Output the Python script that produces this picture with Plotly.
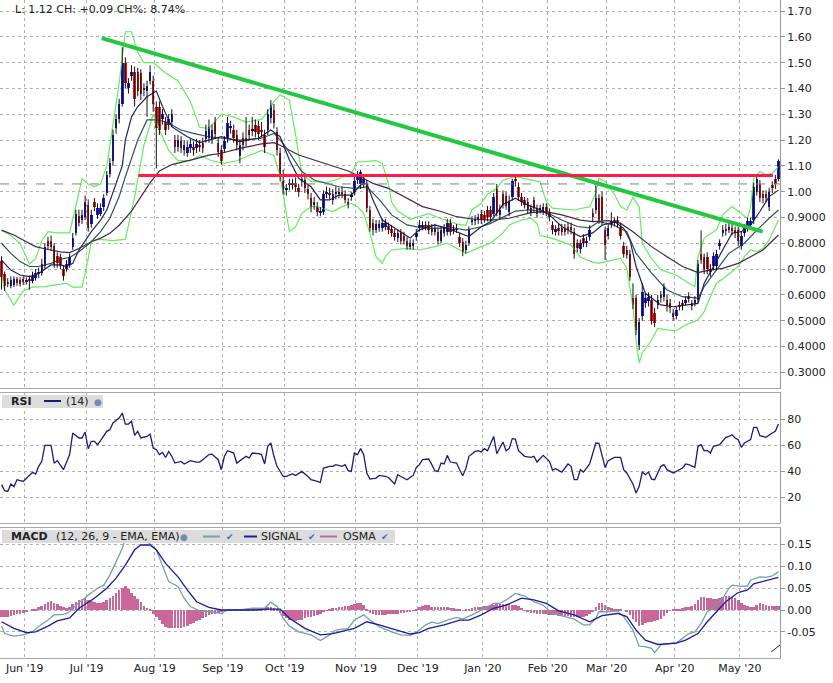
import plotly.graph_objects as go

# one bar per trading day, 21 May 2019 .. 19 May 2020
open_ = [
    0.73, 0.68, 0.65, 0.635, 0.64, 0.66, 0.658, 0.66, 0.65, 0.66,
    0.655, 0.665, 0.68, 0.685, 0.71, 0.81, 0.81, 0.79, 0.75, 0.745,
    0.70, 0.70, 0.715, 0.785, 0.84, 0.905, 0.89, 0.90, 0.95, 0.875,
    0.96, 0.91, 0.915, 0.94, 0.995, 1.07, 1.12, 1.245, 1.28, 1.34,
    1.50, 1.40, 1.45, 1.465, 1.465, 1.46, 1.40, 1.39, 1.43, 1.43,
    1.33, 1.33, 1.28, 1.27, 1.26, 1.27, 1.20, 1.175, 1.195, 1.16,
    1.15, 1.17, 1.175, 1.17, 1.18, 1.19, 1.206, 1.21, 1.205, 1.27,
    1.19, 1.16, 1.165, 1.21, 1.245, 1.24, 1.22, 1.14, 1.21, 1.21,
    1.24, 1.24, 1.26, 1.255, 1.24, 1.22, 1.24, 1.285, 1.316, 1.23,
    1.15, 1.04, 1.005, 1.03, 1.03, 1.035, 1.013, 1.04, 1.045, 1.01,
    0.975, 0.948, 0.94, 0.918, 0.92, 0.99, 0.995, 0.967, 0.99, 0.995,
    1.0, 0.99, 0.96, 0.985, 1.0, 1.045, 1.03, 1.03, 1.03, 0.93,
    0.877, 0.853, 0.86, 0.86, 0.865, 0.866, 0.855, 0.84, 0.82, 0.84,
    0.83, 0.81, 0.787, 0.79, 0.825, 0.86, 0.864, 0.87, 0.87, 0.86,
    0.845, 0.845, 0.81, 0.84, 0.845, 0.88, 0.85, 0.86, 0.825, 0.806,
    0.774, 0.80, 0.885, 0.887, 0.89, 0.915, 0.91, 0.93, 0.93, 0.915,
    1.01, 0.91, 0.99, 0.985, 0.92, 0.98, 1.05, 1.02, 0.98, 0.967,
    0.96, 0.92, 0.967, 0.935, 0.935, 0.925, 0.94, 0.92, 0.87, 0.845,
    0.86, 0.86, 0.86, 0.865, 0.865, 0.845, 0.80, 0.777, 0.82, 0.80,
    0.825, 0.918, 0.93, 0.975, 0.98, 0.85, 0.83, 0.87, 0.89, 0.89,
    0.865, 0.79, 0.775, 0.76, 0.587, 0.587, 0.405, 0.52, 0.567, 0.575,
    0.58, 0.53, 0.56, 0.60, 0.59, 0.58, 0.567, 0.528, 0.52, 0.56,
    0.567, 0.57, 0.595, 0.567, 0.567, 0.58, 0.76, 0.745, 0.745, 0.70,
    0.71, 0.71, 0.79, 0.84, 0.857, 0.855, 0.86, 0.85, 0.85, 0.79,
    0.84, 0.86, 0.87, 0.89, 1.0, 1.03, 0.99, 0.99, 0.94, 1.026,
    1.05, 1.05,
]
high = [
    0.75, 0.69, 0.665, 0.672, 0.672, 0.67, 0.668, 0.672, 0.668, 0.675,
    0.69, 0.70, 0.705, 0.74, 0.80, 0.825, 0.83, 0.80, 0.765, 0.76,
    0.715, 0.735, 0.76, 0.84, 0.93, 0.93, 0.93, 0.985, 0.97, 0.93,
    0.975, 0.955, 0.955, 0.99, 1.08, 1.13, 1.24, 1.30, 1.36, 1.56,
    1.52, 1.44, 1.49, 1.485, 1.48, 1.475, 1.42, 1.43, 1.49, 1.45,
    1.35, 1.35, 1.32, 1.29, 1.30, 1.32, 1.22, 1.22, 1.215, 1.20,
    1.195, 1.205, 1.195, 1.205, 1.20, 1.21, 1.26, 1.28, 1.26, 1.29,
    1.21, 1.18, 1.215, 1.29, 1.275, 1.26, 1.24, 1.20, 1.23, 1.29,
    1.26, 1.29, 1.28, 1.275, 1.27, 1.24, 1.32, 1.355, 1.34, 1.25,
    1.17, 1.085, 1.03, 1.05, 1.05, 1.055, 1.03, 1.07, 1.065, 1.03,
    0.995, 0.98, 0.96, 0.94, 1.005, 1.02, 1.015, 1.01, 1.02, 1.015,
    1.02, 1.005, 0.975, 1.0, 1.06, 1.08, 1.085, 1.065, 1.045, 0.945,
    0.895, 0.89, 0.89, 0.895, 0.895, 0.88, 0.87, 0.855, 0.855, 0.855,
    0.845, 0.825, 0.815, 0.815, 0.855, 0.89, 0.885, 0.885, 0.885, 0.875,
    0.875, 0.86, 0.865, 0.875, 0.895, 0.895, 0.87, 0.875, 0.84, 0.82,
    0.81, 0.865, 0.905, 0.91, 0.915, 0.93, 0.925, 0.945, 0.945, 0.995,
    1.03, 0.95, 1.005, 1.0, 0.985, 1.05, 1.06, 1.035, 0.995, 0.98,
    0.975, 0.95, 0.98, 0.95, 0.95, 0.955, 0.955, 0.935, 0.885, 0.87,
    0.875, 0.875, 0.875, 0.88, 0.88, 0.86, 0.815, 0.815, 0.835, 0.825,
    0.87, 0.935, 1.025, 0.99, 1.0, 0.865, 0.875, 0.92, 0.90, 0.905,
    0.88, 0.805, 0.79, 0.775, 0.645, 0.60, 0.51, 0.645, 0.605, 0.61,
    0.60, 0.55, 0.60, 0.615, 0.645, 0.60, 0.585, 0.545, 0.555, 0.575,
    0.58, 0.595, 0.61, 0.58, 0.595, 0.735, 0.85, 0.76, 0.765, 0.72,
    0.765, 0.775, 0.815, 0.87, 0.875, 0.88, 0.875, 0.865, 0.865, 0.845,
    0.875, 0.90, 0.90, 1.035, 1.065, 1.045, 1.005, 1.005, 1.015, 1.04,
    1.065, 1.125,
]
low = [
    0.62, 0.615, 0.63, 0.625, 0.63, 0.635, 0.632, 0.638, 0.64, 0.62,
    0.645, 0.655, 0.665, 0.675, 0.70, 0.775, 0.77, 0.705, 0.705, 0.70,
    0.655, 0.69, 0.705, 0.775, 0.83, 0.865, 0.875, 0.89, 0.845, 0.86,
    0.925, 0.895, 0.905, 0.925, 0.985, 1.055, 1.10, 1.225, 1.265, 1.33,
    1.40, 1.38, 1.43, 1.33, 1.37, 1.355, 1.37, 1.29, 1.415, 1.31,
    1.09, 1.22, 1.26, 1.22, 1.24, 1.25, 1.15, 1.155, 1.15, 1.14,
    1.135, 1.15, 1.14, 1.15, 1.155, 1.15, 1.19, 1.19, 1.185, 1.205,
    1.135, 1.105, 1.15, 1.19, 1.225, 1.19, 1.16, 1.11, 1.16, 1.175,
    1.20, 1.215, 1.21, 1.20, 1.21, 1.15, 1.22, 1.265, 1.245, 1.14,
    1.04, 0.99, 0.985, 1.005, 1.008, 1.0, 0.98, 1.02, 0.995, 0.97,
    0.92, 0.93, 0.905, 0.905, 0.91, 0.975, 0.97, 0.95, 0.97, 0.975,
    0.975, 0.955, 0.935, 0.965, 0.985, 1.03, 1.01, 1.015, 0.92, 0.845,
    0.83, 0.84, 0.845, 0.845, 0.85, 0.835, 0.825, 0.81, 0.805, 0.795,
    0.795, 0.775, 0.775, 0.775, 0.81, 0.845, 0.85, 0.85, 0.835, 0.83,
    0.83, 0.795, 0.80, 0.825, 0.83, 0.83, 0.835, 0.84, 0.785, 0.75,
    0.76, 0.79, 0.87, 0.87, 0.875, 0.875, 0.88, 0.885, 0.885, 0.905,
    0.905, 0.895, 0.935, 0.93, 0.905, 0.965, 1.02, 0.965, 0.945, 0.935,
    0.915, 0.905, 0.92, 0.90, 0.915, 0.91, 0.905, 0.885, 0.835, 0.83,
    0.83, 0.83, 0.83, 0.835, 0.835, 0.74, 0.765, 0.76, 0.785, 0.785,
    0.81, 0.885, 0.915, 0.875, 0.87, 0.735, 0.815, 0.86, 0.865, 0.86,
    0.815, 0.745, 0.74, 0.655, 0.545, 0.445, 0.386, 0.50, 0.55, 0.555,
    0.485, 0.475, 0.545, 0.57, 0.575, 0.535, 0.53, 0.50, 0.505, 0.54,
    0.54, 0.56, 0.57, 0.54, 0.555, 0.57, 0.72, 0.68, 0.68, 0.67,
    0.695, 0.695, 0.775, 0.825, 0.83, 0.84, 0.83, 0.82, 0.79, 0.775,
    0.825, 0.845, 0.855, 0.875, 0.985, 0.96, 0.955, 0.96, 0.925, 0.995,
    1.01, 1.04,
]
close = [
    0.67, 0.635, 0.645, 0.658, 0.66, 0.645, 0.643, 0.648, 0.655, 0.652,
    0.672, 0.685, 0.69, 0.72, 0.785, 0.79, 0.785, 0.72, 0.725, 0.71,
    0.675, 0.72, 0.745, 0.82, 0.915, 0.88, 0.91, 0.96, 0.86, 0.91,
    0.94, 0.935, 0.935, 0.975, 1.065, 1.11, 1.22, 1.28, 1.34, 1.50,
    1.42, 1.42, 1.465, 1.36, 1.39, 1.38, 1.395, 1.41, 1.465, 1.34,
    1.245, 1.24, 1.30, 1.24, 1.28, 1.30, 1.175, 1.20, 1.17, 1.18,
    1.175, 1.185, 1.16, 1.185, 1.175, 1.17, 1.236, 1.25, 1.24, 1.225,
    1.155, 1.12, 1.195, 1.265, 1.255, 1.21, 1.18, 1.18, 1.18, 1.195,
    1.22, 1.238, 1.23, 1.225, 1.235, 1.175, 1.30, 1.335, 1.265, 1.16,
    1.06, 1.006, 1.013, 1.028, 1.028, 1.02, 1.0, 1.05, 1.013, 0.99,
    0.94, 0.96, 0.92, 0.925, 0.99, 1.0, 0.99, 0.99, 1.0, 0.993,
    0.99, 0.968, 0.95, 0.983, 1.04, 1.06, 1.077, 1.05, 0.935, 0.86,
    0.85, 0.873, 0.874, 0.877, 0.877, 0.85, 0.84, 0.826, 0.838, 0.81,
    0.81, 0.79, 0.80, 0.80, 0.84, 0.87, 0.87, 0.864, 0.85, 0.845,
    0.86, 0.81, 0.85, 0.86, 0.88, 0.845, 0.856, 0.855, 0.80, 0.767,
    0.795, 0.85, 0.89, 0.895, 0.90, 0.89, 0.895, 0.90, 0.90, 0.98,
    0.92, 0.93, 0.95, 0.945, 0.96, 1.04, 1.04, 0.98, 0.96, 0.95,
    0.93, 0.935, 0.935, 0.915, 0.933, 0.94, 0.92, 0.90, 0.85, 0.855,
    0.847, 0.845, 0.845, 0.85, 0.85, 0.76, 0.78, 0.80, 0.80, 0.81,
    0.85, 0.90, 0.975, 0.89, 0.89, 0.795, 0.86, 0.885, 0.877, 0.877,
    0.83, 0.76, 0.755, 0.67, 0.56, 0.463, 0.496, 0.61, 0.587, 0.59,
    0.50, 0.49, 0.58, 0.587, 0.63, 0.555, 0.548, 0.516, 0.54, 0.553,
    0.555, 0.58, 0.583, 0.555, 0.58, 0.72, 0.735, 0.70, 0.70, 0.69,
    0.75, 0.76, 0.80, 0.85, 0.85, 0.862, 0.847, 0.84, 0.81, 0.83,
    0.86, 0.885, 0.885, 1.02, 1.05, 0.975, 0.975, 0.975, 1.0, 1.013,
    1.03, 1.12,
]

# bar index of the first session of each month
month_start = [8, 28, 50, 72, 92, 115, 135, 156, 177, 196, 218, 239]
month_label = ["Jun '19", "Jul '19", "Aug '19", "Sep '19", "Oct '19", "Nov '19",
               "Dec '19", "Jan '20", "Feb '20", "Mar '20", "Apr '20", "May '20"]

price_ticks = [0.3, 0.4, 0.5, 0.6, 0.7, 0.8, 0.9, 1.0, 1.1, 1.2, 1.3, 1.4, 1.5, 1.6, 1.7]
price_ticktext = ["0.3000", "0.4000", "0.5000", "0.6000", "0.7000", "0.8000", "0.9000",
                  "1.00", "1.10", "1.20", "1.30", "1.40", "1.50", "1.60", "1.70"]
rsi_ticks = [20, 40, 60, 80]
macd_ticks = [-0.05, 0.0, 0.05, 0.10, 0.15]
macd_ticktext = ["-0.05", "0.00", "0.05", "0.10", "0.15"]

# bollinger bands
bb_up_idx = [0, 3, 6, 9, 11, 13, 15, 18, 22, 24,
             26, 28, 30, 32, 34, 36, 38, 40, 42, 44,
             46, 49, 53, 57, 61, 64, 67, 71, 75, 79,
             84, 86, 88, 90, 93, 95, 97, 100, 105, 109,
             113, 115, 121, 123, 125, 126, 128, 132, 135, 138,
             141, 144, 147, 150, 152, 155, 157, 160, 162, 166,
             172, 174, 176, 178, 185, 190, 192, 193, 195, 198,
             200, 202, 204, 206, 207, 210, 213, 218, 222, 224,
             225, 227, 231, 233, 236, 239, 241, 242, 243, 245,
             247, 249, 251]
bb_up_val = [0.85, 0.83, 0.80, 0.72, 0.74, 0.81, 0.845, 0.84, 0.84, 0.95,
             1.05, 1.03, 1.02, 1.03, 1.10, 1.26, 1.42, 1.62, 1.62, 1.54,
             1.50, 1.50, 1.46, 1.43, 1.35, 1.25, 1.245, 1.30, 1.29, 1.27,
             1.28, 1.31, 1.35, 1.375, 1.355, 1.22, 1.07, 1.04, 1.035, 1.05,
             1.07, 1.115, 1.12, 1.11, 1.03, 0.96, 0.925, 0.893, 0.905, 0.915,
             0.90, 0.886, 0.875, 0.87, 0.93, 0.955, 0.99, 1.013, 1.045, 1.058,
             1.045, 1.038, 0.961, 0.936, 0.929, 0.942, 0.994, 1.052, 1.04, 0.99,
             0.942, 0.929, 0.978, 0.942, 0.80, 0.74, 0.697, 0.677, 0.645, 0.632,
             0.748, 0.82, 0.852, 0.91, 0.942, 0.916, 0.897, 0.942, 1.052, 1.078,
             1.065, 1.071, 1.097]
bb_lo_idx = [0, 1, 4, 7, 10, 14, 18, 21, 23, 26,
             28, 29, 32, 36, 40, 43, 46, 49, 51, 54,
             57, 61, 64, 68, 72, 76, 80, 84, 86, 88,
             90, 92, 93, 95, 97, 100, 102, 107, 110, 113,
             115, 117, 119, 121, 123, 124, 126, 131, 135, 140,
             144, 147, 150, 155, 158, 162, 164, 168, 171, 173,
             174, 178, 184, 187, 191, 193, 197, 200, 202, 204,
             205, 206, 207, 210, 212, 215, 218, 221, 225, 227,
             229, 231, 234, 238, 240, 242, 244, 246, 248, 250,
             251]
bb_lo_val = [0.68, 0.62, 0.56, 0.615, 0.63, 0.632, 0.64, 0.645, 0.63, 0.63,
             0.74, 0.81, 0.815, 0.81, 0.815, 0.98, 1.18, 1.30, 1.24, 1.16,
             1.12, 1.12, 1.14, 1.12, 1.11, 1.12, 1.14, 1.16, 1.15, 1.14,
             1.06, 0.916, 0.845, 0.864, 0.916, 0.942, 0.942, 0.923, 0.942, 0.955,
             0.942, 0.916, 0.839, 0.748, 0.722, 0.748, 0.774, 0.78, 0.774, 0.787,
             0.80, 0.781, 0.761, 0.787, 0.80, 0.84, 0.871, 0.89, 0.897, 0.877,
             0.83, 0.819, 0.793, 0.746, 0.727, 0.722, 0.735, 0.742, 0.703, 0.554,
             0.425, 0.337, 0.374, 0.425, 0.47, 0.464, 0.461, 0.483, 0.503, 0.535,
             0.593, 0.645, 0.671, 0.71, 0.748, 0.774, 0.768, 0.78, 0.813, 0.864,
             0.89]

# moving averages (fast / mid / slow)
ma_fast_idx = [0, 3, 6, 9, 12, 16, 19, 21, 23, 25,
               29, 32, 34, 37, 39, 40, 42, 44, 47, 50,
               52, 55, 60, 64, 67, 71, 77, 83, 87, 90,
               93, 96, 100, 103, 106, 109, 113, 116, 118, 120,
               123, 128, 132, 135, 140, 144, 148, 151, 155, 158,
               162, 166, 170, 174, 177, 181, 184, 187, 191, 194,
               198, 201, 203, 205, 208, 213, 217, 221, 225, 227,
               230, 233, 236, 239, 242, 245, 248, 251]
ma_fast_val = [0.735, 0.696, 0.677, 0.671, 0.683, 0.716, 0.716, 0.71, 0.722, 0.774,
               0.845, 0.89, 0.929, 1.03, 1.10, 1.20, 1.29, 1.33, 1.368, 1.39,
               1.33, 1.252, 1.213, 1.19, 1.20, 1.213, 1.194, 1.207, 1.239, 1.213,
               1.123, 1.052, 1.019, 0.968, 0.968, 0.987, 0.987, 1.026, 1.032, 0.968,
               0.89, 0.85, 0.82, 0.852, 0.871, 0.858, 0.839, 0.826, 0.864, 0.884,
               0.95, 0.975, 0.948, 0.93, 0.91, 0.865, 0.845, 0.826, 0.84, 0.87,
               0.884, 0.858, 0.813, 0.71, 0.606, 0.561, 0.554, 0.561, 0.567, 0.645,
               0.71, 0.774, 0.839, 0.845, 0.871, 0.923, 0.981, 1.006]
ma_mid_idx = [0, 3, 6, 9, 12, 16, 19, 22, 25, 29,
              32, 35, 38, 40, 44, 47, 50, 53, 58, 62,
              67, 71, 77, 84, 88, 91, 94, 97, 101, 105,
              109, 114, 118, 122, 126, 131, 135, 140, 145, 150,
              155, 158, 162, 166, 171, 176, 181, 186, 190, 193,
              198, 202, 205, 210, 215, 220, 225, 227, 231, 235,
              240, 244, 248, 251]
ma_mid_val = [0.80, 0.761, 0.729, 0.71, 0.71, 0.722, 0.738, 0.745, 0.767, 0.806,
              0.845, 0.897, 0.981, 1.058, 1.20, 1.278, 1.278, 1.271, 1.239, 1.226,
              1.213, 1.207, 1.20, 1.207, 1.226, 1.187, 1.13, 1.078, 1.045, 1.032,
              1.019, 1.013, 1.019, 0.97, 0.91, 0.871, 0.862, 0.858, 0.862, 0.851,
              0.864, 0.877, 0.90, 0.925, 0.93, 0.92, 0.89, 0.865, 0.86, 0.884,
              0.87, 0.845, 0.761, 0.684, 0.619, 0.593, 0.587, 0.632, 0.697, 0.761,
              0.80, 0.851, 0.897, 0.929]
ma_slow_idx = [0, 4, 8, 11, 15, 19, 22, 25, 29, 32,
               35, 38, 42, 45, 48, 51, 55, 62, 67, 71,
               77, 84, 88, 90, 93, 96, 101, 107, 112, 116,
               120, 125, 129, 132, 136, 142, 147, 152, 158, 164,
               171, 176, 181, 187, 191, 196, 200, 204, 210, 215,
               220, 225, 229, 233, 238, 242, 246, 251]
ma_slow_val = [0.851, 0.832, 0.806, 0.787, 0.776, 0.767, 0.764, 0.78, 0.806, 0.82,
               0.839, 0.87, 0.925, 0.98, 1.035, 1.08, 1.105, 1.125, 1.142, 1.149,
               1.168, 1.185, 1.19, 1.18, 1.16, 1.142, 1.123, 1.10, 1.08, 1.058,
               1.032, 1.013, 0.987, 0.968, 0.942, 0.923, 0.903, 0.894, 0.89, 0.897,
               0.919, 0.923, 0.91, 0.89, 0.884, 0.888, 0.877, 0.845, 0.787, 0.748,
               0.71, 0.686, 0.697, 0.703, 0.722, 0.748, 0.774, 0.832]

# hand-drawn lines on the chart
trend_idx = [32.4, 245.9]
trend_val = [1.595, 0.845]
resist_idx = [44.2, 249.2]
resist_val = [1.063, 1.063]

# RSI(14)
rsi_idx = [0, 1, 2, 3, 4, 5, 7, 8, 10, 11,
           12, 13, 14, 16, 17, 18, 20, 22, 23, 25,
           26, 27, 28, 29, 30, 31, 32, 34, 35, 36,
           37, 38, 39, 40, 41, 42, 43, 44, 45, 47,
           48, 49, 50, 51, 52, 53, 54, 55, 56, 58,
           59, 61, 63, 64, 65, 67, 68, 70, 71, 72,
           73, 75, 76, 78, 79, 80, 81, 83, 84, 85,
           86, 87, 88, 89, 91, 92, 94, 95, 97, 99,
           100, 102, 103, 104, 106, 107, 108, 110, 111, 112,
           113, 114, 115, 116, 117, 118, 119, 121, 122, 124,
           125, 127, 128, 129, 131, 132, 133, 134, 135, 136,
           138, 139, 140, 141, 142, 143, 144, 145, 147, 148,
           149, 150, 151, 153, 154, 155, 156, 157, 159, 160,
           162, 163, 164, 165, 166, 167, 169, 171, 172, 173,
           175, 177, 178, 179, 181, 183, 184, 185, 186, 187,
           188, 190, 192, 193, 195, 196, 198, 200, 201, 202,
           204, 205, 206, 207, 208, 209, 210, 211, 213, 214,
           215, 217, 219, 220, 221, 222, 224, 225, 226, 227,
           228, 229, 230, 232, 234, 235, 236, 237, 238, 239,
           240, 241, 242, 243, 244, 245, 246, 247, 249, 250,
           251]
rsi_val = [29.5, 24.8, 24.3, 30, 28, 33.3, 32, 34.6, 39, 37.7,
           43.6, 47.4, 59.7, 59.7, 46, 48, 41, 52.6, 69.2, 65.4,
           65.4, 70, 57.2, 62.8, 62.8, 60.2, 63.3, 70.5, 71.8, 76.9,
           78.7, 80.7, 84.6, 76.1, 76.1, 78.2, 67.4, 70.5, 65.4, 66.6,
           68.4, 57.7, 56.4, 52.6, 54.3, 50.4, 55, 51.3, 46.1, 47.4,
           45.4, 48, 46.9, 46.9, 48.7, 52.6, 53, 48.7, 41, 51.3,
           55.6, 53.8, 46.1, 49.5, 51.3, 50, 53.8, 53.3, 52.6, 45.4,
           59, 61.6, 51.3, 43.6, 35.8, 35.8, 37.7, 36.6, 39.7, 35.8,
           33.3, 32, 31.2, 42.3, 43.6, 43.6, 44.9, 43.6, 44.9, 40.2,
           39.7, 53.8, 52.6, 57.2, 52.6, 38.5, 33.8, 34.6, 36.6, 35.8,
           35, 30, 37.2, 35.8, 33.3, 35, 36.6, 42.8, 44.9, 48.7,
           49.2, 44.9, 40.2, 39.7, 46.1, 45.4, 52, 46.9, 46.1, 41,
           36.4, 41.8, 51.3, 55.1, 55.6, 54.6, 57.2, 55.6, 66.6, 53.3,
           62.3, 55.6, 57.2, 64.9, 64.6, 55.6, 51.3, 50.5, 51.3, 46.9,
           52, 47.4, 40.7, 41.8, 39.2, 45.4, 43.6, 33.3, 33.3, 41,
           39.2, 45.4, 61.5, 61.3, 42.8, 48, 50.5, 50.5, 41, 38.5,
           30, 23, 28.2, 39.2, 37.2, 39.2, 33.8, 33.3, 43.6, 44.9,
           41, 38.5, 41, 42.3, 45.4, 44.9, 42.8, 59, 60.2, 55.6,
           55.9, 53.8, 59, 60.2, 65.9, 66.6, 67.9, 65.4, 64.1, 58.2,
           61.5, 62.8, 64.1, 73.6, 73.6, 67.2, 66.6, 65.9, 69.2, 70.5,
           76.1]

# MACD(12, 26, 9)
macd_idx = [0, 1, 4, 7, 10, 12, 15, 17, 20, 22,
            24, 26, 28, 31, 33, 35, 37, 39, 40, 43,
            45, 47, 50, 52, 54, 57, 59, 61, 64, 68,
            71, 73, 77, 81, 85, 87, 89, 91, 93, 96,
            100, 103, 106, 108, 112, 114, 117, 119, 122, 126,
            129, 132, 134, 137, 139, 141, 144, 147, 149, 152,
            155, 159, 161, 163, 166, 169, 172, 175, 178, 182,
            185, 188, 190, 192, 193, 196, 199, 201, 204, 206,
            208, 210, 211, 213, 215, 218, 220, 222, 224, 226,
            228, 230, 233, 235, 236, 239, 241, 242, 245, 247,
            249, 251]
macd_val = [-0.037, -0.054, -0.060, -0.057, -0.050, -0.038, -0.023, -0.011, -0.010, -0.004,
            0.011, 0.023, 0.034, 0.050, 0.057, 0.080, 0.111, 0.141, 0.164, 0.172,
            0.168, 0.157, 0.138, 0.099, 0.065, 0.054, 0.027, 0.008, -0.002, -0.004,
            -0.008, 0.0, 0.0, 0.004, 0.004, 0.018, 0.008, -0.019, -0.037, -0.050,
            -0.057, -0.070, -0.057, -0.046, -0.042, -0.023, -0.011, -0.023, -0.038, -0.050,
            -0.057, -0.058, -0.052, -0.034, -0.028, -0.031, -0.023, -0.017, -0.021, -0.011,
            0.0, 0.015, 0.015, 0.023, 0.038, 0.032, 0.019, 0.011, -0.008, -0.015,
            -0.021, -0.034, -0.034, -0.019, -0.004, -0.004, -0.002, -0.015, -0.046, -0.083,
            -0.084, -0.088, -0.098, -0.080, -0.078, -0.075, -0.065, -0.054, -0.050, -0.031,
            -0.004, 0.006, 0.027, 0.050, 0.057, 0.054, 0.055, 0.069, 0.076, 0.075,
            0.078, 0.088]
signal_idx = [0, 4, 8, 11, 15, 18, 22, 25, 30, 34,
              37, 40, 43, 45, 48, 50, 53, 57, 60, 63,
              67, 71, 75, 81, 86, 90, 93, 98, 103, 107,
              114, 118, 122, 128, 132, 135, 138, 143, 148, 151,
              155, 159, 163, 168, 172, 176, 180, 185, 190, 194,
              199, 202, 205, 208, 212, 218, 221, 225, 228, 231,
              234, 238, 241, 243, 246, 249, 251]
signal_val = [-0.027, -0.042, -0.052, -0.050, -0.037, -0.025, -0.018, 0.004, 0.027, 0.050,
              0.073, 0.103, 0.138, 0.149, 0.149, 0.138, 0.107, 0.076, 0.046, 0.019,
              0.006, 0.0, 0.0, 0.0, 0.002, 0.002, -0.019, -0.042, -0.057, -0.054,
              -0.042, -0.027, -0.034, -0.046, -0.055, -0.052, -0.042, -0.034, -0.023, -0.023,
              -0.011, 0.004, 0.011, 0.027, 0.023, 0.015, -0.002, -0.011, -0.027, -0.013,
              -0.008, -0.015, -0.046, -0.069, -0.079, -0.076, -0.069, -0.054, -0.027, -0.004,
              0.019, 0.040, 0.046, 0.060, 0.065, 0.070, 0.075]
osma = [
    -0.017, -0.017, -0.015, -0.013, -0.011, -0.010, -0.008, -0.006, -0.004, 0.000,
    0.002, 0.003, 0.006, 0.009, 0.013, 0.019, 0.021, 0.017, 0.013, 0.010,
    0.007, 0.004, 0.006, 0.013, 0.019, 0.023, 0.025, 0.027, 0.024, 0.020,
    0.018, 0.017, 0.015, 0.019, 0.023, 0.027, 0.031, 0.038, 0.045, 0.051,
    0.054, 0.048, 0.040, 0.032, 0.026, 0.019, 0.010, 0.005, 0.002, -0.008,
    -0.017, -0.023, -0.033, -0.038, -0.042, -0.042, -0.042, -0.042, -0.042, -0.040,
    -0.036, -0.032, -0.029, -0.025, -0.022, -0.019, -0.016, -0.012, -0.010, -0.008,
    -0.006, -0.004, -0.002, -0.001, 0.000, 0.000, 0.001, 0.001, 0.002, 0.002,
    0.002, 0.001, 0.001, 0.002, 0.003, 0.005, 0.007, 0.006, 0.004, 0.001,
    -0.006, -0.013, -0.018, -0.022, -0.024, -0.025, -0.024, -0.022, -0.019, -0.017,
    -0.015, -0.013, -0.011, -0.008, -0.004, -0.001, 0.002, 0.004, 0.005, 0.006,
    0.008, 0.009, 0.010, 0.011, 0.013, 0.015, 0.016, 0.012, 0.003, -0.006,
    -0.010, -0.011, -0.011, -0.011, -0.011, -0.010, -0.009, -0.009, -0.008, -0.007,
    -0.006, -0.005, -0.003, -0.001, 0.002, 0.006, 0.009, 0.011, 0.011, 0.008,
    0.007, 0.006, 0.006, 0.006, 0.006, 0.005, 0.004, 0.003, 0.002, 0.000,
    0.001, 0.002, 0.004, 0.006, 0.007, 0.008, 0.009, 0.010, 0.011, 0.012,
    0.013, 0.013, 0.013, 0.013, 0.013, 0.012, 0.011, 0.010, 0.005, -0.002,
    -0.005, -0.006, -0.007, -0.008, -0.009, -0.010, -0.010, -0.011, -0.012, -0.012,
    -0.013, -0.013, -0.014, -0.014, -0.015, -0.016, -0.017, -0.016, -0.015, -0.014,
    -0.009, -0.003, 0.007, 0.015, 0.017, 0.012, 0.006, 0.004, 0.003, 0.003,
    0.002, 0.000, -0.004, -0.012, -0.020, -0.027, -0.036, -0.034, -0.030, -0.028,
    -0.027, -0.025, -0.023, -0.021, -0.014, -0.006, -0.002, 0.001, 0.002, 0.003,
    0.004, 0.006, 0.008, 0.010, 0.014, 0.022, 0.029, 0.030, 0.028, 0.027,
    0.026, 0.026, 0.028, 0.030, 0.031, 0.031, 0.030, 0.027, 0.023, 0.017,
    0.012, 0.009, 0.007, 0.006, 0.011, 0.015, 0.014, 0.011, 0.009, 0.009,
    0.009, 0.010,
]

UP = "#1c1cdc"
DOWN = "#dc1818"
DOJI = "#111111"
BB = "#62ef5a"
GRID = "#b0b0b0"
FRAME = "#a8a8a8"
TXT = "#222222"
FONT = "DejaVu Sans"

PLOT_W, PLOT_H = 780, 658  # plot area in px (margins: r=53, b=25)


def px(x):
    return x / PLOT_W


def py(y):
    return 1 - y / PLOT_H


n = len(close)
idx = list(range(n))

body_base, body_len, body_col = [], [], []
for o, c in zip(open_, close):
    lo_, hi_ = min(o, c), max(o, c)
    if hi_ - lo_ < 0.004:
        body_col.append(DOJI)
        body_base.append((o + c) / 2 - 0.0025)
        body_len.append(0.005)
    else:
        body_col.append(UP if c > o else DOWN)
        body_base.append(lo_)
        body_len.append(hi_ - lo_)

wick_x, wick_y = [], []
for i, h, l in zip(idx, high, low):
    wick_x += [i, i, None]
    wick_y += [l, h, None]

fig = go.Figure()

# --- price panel ---
fig.add_trace(go.Scatter(x=bb_up_idx, y=bb_up_val, mode="lines",
                         line=dict(color=BB, width=1.2), xaxis="x", yaxis="y"))
fig.add_trace(go.Scatter(x=bb_lo_idx, y=bb_lo_val, mode="lines",
                         line=dict(color=BB, width=1.2), xaxis="x", yaxis="y"))
fig.add_trace(go.Scatter(x=ma_slow_idx, y=ma_slow_val, mode="lines",
                         line=dict(color="#4a2448", width=1.2), xaxis="x", yaxis="y"))
fig.add_trace(go.Scatter(x=ma_mid_idx, y=ma_mid_val, mode="lines",
                         line=dict(color="#2d5552", width=1.2), xaxis="x", yaxis="y"))
fig.add_trace(go.Scatter(x=ma_fast_idx, y=ma_fast_val, mode="lines",
                         line=dict(color="#22225e", width=1.2), xaxis="x", yaxis="y"))
fig.add_trace(go.Scatter(x=wick_x, y=wick_y, mode="lines",
                         line=dict(color="#111111", width=1), xaxis="x", yaxis="y"))
fig.add_trace(go.Bar(x=idx, y=body_len, base=body_base, width=0.8,
                     marker=dict(color=body_col, line=dict(width=0)),
                     xaxis="x", yaxis="y"))
fig.add_trace(go.Scatter(x=trend_idx, y=trend_val, mode="lines",
                         line=dict(color="#22c83e", width=4), xaxis="x", yaxis="y"))
fig.add_trace(go.Scatter(x=resist_idx, y=resist_val, mode="lines",
                         line=dict(color="#ff1a4a", width=3), xaxis="x", yaxis="y"))
# previous close reference
fig.add_trace(go.Scatter(x=[-0.5, n - 0.5], y=[close[-2], close[-2]], mode="lines",
                         line=dict(color="#808080", width=1, dash="dash"),
                         xaxis="x", yaxis="y"))

# --- RSI panel ---
fig.add_trace(go.Scatter(x=rsi_idx, y=rsi_val, mode="lines",
                         line=dict(color="#1b1b7c", width=1.3), xaxis="x2", yaxis="y2"))

# --- MACD panel ---
fig.add_trace(go.Bar(x=idx, y=osma, width=0.85,
                     marker=dict(color="#c9679b", line=dict(width=0)),
                     xaxis="x3", yaxis="y3"))
fig.add_trace(go.Scatter(x=macd_idx, y=macd_val, mode="lines",
                         line=dict(color="#6fa4a0", width=1.3), xaxis="x3", yaxis="y3"))
fig.add_trace(go.Scatter(x=signal_idx, y=signal_val, mode="lines",
                         line=dict(color="#1a1aa6", width=1.3), xaxis="x3", yaxis="y3"))

xcommon = dict(range=[-0.5, n - 0.5], tickvals=[m - 0.5 for m in month_start],
               ticktext=month_label, showgrid=True, gridcolor=GRID, griddash="dot",
               gridwidth=1, showline=True, linecolor=FRAME, mirror=True,
               zeroline=False, ticks="", fixedrange=True)
ycommon = dict(side="right", showgrid=True, gridcolor=GRID, griddash="dot", gridwidth=1,
               showline=True, linecolor="#989898", linewidth=1, mirror=True,
               zeroline=False, ticks="outside", ticklen=4, tickcolor="#989898",
               fixedrange=True, tickfont=dict(family=FONT, size=11, color=TXT))

fig.update_layout(
    width=833, height=683,
    margin=dict(l=0, r=53, t=0, b=25),
    paper_bgcolor="white", plot_bgcolor="white",
    showlegend=False, hovermode=False,
    barmode="overlay", bargap=0,
    font=dict(family=FONT, size=11, color=TXT),
    xaxis=dict(xcommon, anchor="y", domain=[0, 1], showticklabels=False),
    xaxis2=dict(xcommon, anchor="y2", domain=[0, 1], showticklabels=False, matches="x"),
    xaxis3=dict(xcommon, anchor="y3", domain=[0, 1], showticklabels=True, matches="x",
                tickfont=dict(family=FONT, size=11, color=TXT)),
    yaxis=dict(ycommon, domain=[1 - 388 / PLOT_H, 1], range=[0.239, 1.743],
               tickvals=price_ticks, ticktext=price_ticktext),
    yaxis2=dict(ycommon, domain=[1 - 523 / PLOT_H, 1 - 393 / PLOT_H], range=[0, 100],
                tickvals=rsi_ticks),
    yaxis3=dict(ycommon, domain=[0, 1 - 528 / PLOT_H], range=[-0.110, 0.188],
                tickvals=macd_ticks, ticktext=macd_ticktext),
)

# --- header and panel captions ---
shapes = [
    dict(type="rect", xref="paper", yref="paper", x0=px(2), x1=px(103),
         y0=py(408), y1=py(395), fillcolor="#dcdcdc", line=dict(width=0), layer="above"),
    dict(type="line", xref="paper", yref="paper", x0=px(44), x1=px(61),
         y0=py(401), y1=py(401), line=dict(color="#1b1b7c", width=2)),
    dict(type="rect", xref="paper", yref="paper", x0=px(2), x1=px(395),
         y0=py(543), y1=py(530), fillcolor="#dcdcdc", line=dict(width=0), layer="above"),
    dict(type="line", xref="paper", yref="paper", x0=px(203), x1=px(220),
         y0=py(536.5), y1=py(536.5), line=dict(color="#6fa4a0", width=2)),
    dict(type="line", xref="paper", yref="paper", x0=px(244), x1=px(257),
         y0=py(536.5), y1=py(536.5), line=dict(color="#1a1aa6", width=2)),
    dict(type="line", xref="paper", yref="paper", x0=px(320), x1=px(337),
         y0=py(536.5), y1=py(536.5), line=dict(color="#c9679b", width=2)),
    dict(type="line", xref="paper", yref="paper", x0=px(771), x1=px(780),
         y0=py(652), y1=py(645), line=dict(color="#333333", width=1)),
]
fig.update_layout(shapes=shapes)


def label(x, y, text, size=11, color=TXT, bold=False):
    t = f"<b>{text}</b>" if bold else text
    fig.add_annotation(x=px(x), y=py(y), xref="paper", yref="paper", text=t,
                       showarrow=False, xanchor="left", yanchor="middle",
                       font=dict(family=FONT, size=size, color=color))


label(13, 9, f"L: {close[-1]:.2f} CH: +{close[-1] - close[-2]:.2f} "
             f"CH%: {(close[-1] / close[-2] - 1) * 100:.2f}%")
label(9, 401.5, "RSI", bold=True)
label(64, 401.5, "(14)")
label(92, 401.5, "●", size=9, color="#6d8fb4")
label(9, 536.5, "MACD", bold=True)
label(54, 536.5, "(12, 26, 9 - EMA, EMA)")
label(178, 536.5, "●", size=9, color="#6d8fb4")
label(224, 537, "✔", size=9, color="#2a6fd8")
label(259, 536.5, "SIGNAL")
label(306, 537, "✔", size=9, color="#2a6fd8")
label(341, 536.5, "OSMA")
label(379, 537, "✔", size=9, color="#2a6fd8")

# page body has a default 8px margin; the chart should sit at the window corner
fig.write_html("out.html", config={"displayModeBar": False},
               post_script="document.body.style.margin='0';")
